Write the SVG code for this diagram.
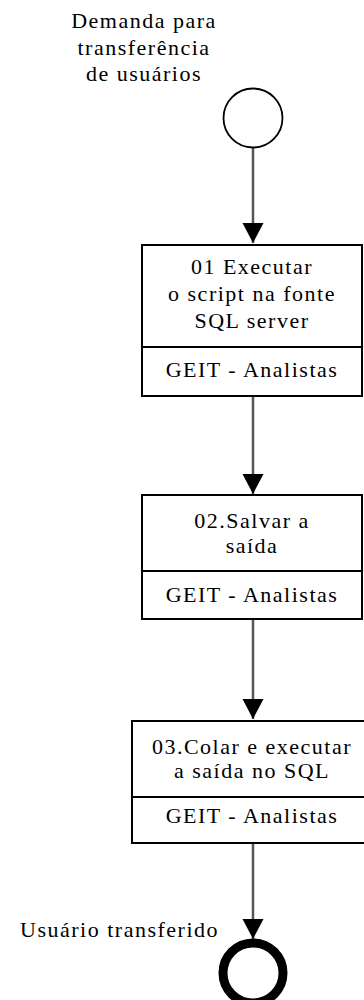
<svg xmlns="http://www.w3.org/2000/svg" width="364" height="1000" viewBox="0 0 364 1000">
<style>
text{font-family:'Liberation Serif','DejaVu Serif',serif;font-size:22px;fill:#000;letter-spacing:1.5px}
.c{text-anchor:middle}
.box{fill:#fff;stroke:#000;stroke-width:2}
.conn{stroke:#555;stroke-width:2.5;fill:none}
</style>
<defs>
<marker id="arr" markerUnits="userSpaceOnUse" markerWidth="22" markerHeight="28" refX="20" refY="10.5" orient="auto">
<path d="M0,0 L20,10.5 L0,21 Z" fill="#000"/>
</marker>
</defs>
<g id="connectors">
<path class="conn" d="M253,148 V243" marker-end="url(#arr)"/>
<path class="conn" d="M253,397 V494" marker-end="url(#arr)"/>
<path class="conn" d="M253,620 V719" marker-end="url(#arr)"/>
<path class="conn" d="M253,844 V939" marker-end="url(#arr)"/>
</g>
<g id="start" font-family="Liberation Serif, serif">
<circle cx="253" cy="118" r="29.5" fill="#fff" stroke="#000" stroke-width="1.8"/>
<text class="c" x="144" y="28">Demanda para</text>
<text class="c" x="144" y="54.5">transferência</text>
<text class="c" x="144" y="81">de usuários</text>
</g>
<g id="task1">
<rect class="box" x="142" y="245" width="220" height="151"/>
<line x1="142" y1="347" x2="362" y2="347" stroke="#000" stroke-width="2"/>
<text class="c" x="252" y="274">01 Executar</text>
<text class="c" x="252" y="301">o script na fonte</text>
<text class="c" x="252" y="327.5">SQL server</text>
<text class="c" x="252" y="377">GEIT - Analistas</text>
</g>
<g id="task2">
<rect class="box" x="142" y="495" width="220" height="124"/>
<line x1="142" y1="571" x2="362" y2="571" stroke="#000" stroke-width="2"/>
<text class="c" x="252" y="528">02.Salvar a</text>
<text class="c" x="252" y="553">saída</text>
<text class="c" x="252" y="602">GEIT - Analistas</text>
</g>
<g id="task3">
<rect class="box" x="132" y="721" width="242" height="122"/>
<line x1="132" y1="797" x2="374" y2="797" stroke="#000" stroke-width="2"/>
<text class="c" x="252" y="754">03.Colar e executar</text>
<text class="c" x="252" y="778">a saída no SQL</text>
<text class="c" x="252" y="823">GEIT - Analistas</text>
</g>
<g id="end">
<circle cx="253" cy="973" r="30" fill="#fff" stroke="#000" stroke-width="9"/>
<text x="219" y="937" text-anchor="end">Usuário transferido</text>
</g>
</svg>
